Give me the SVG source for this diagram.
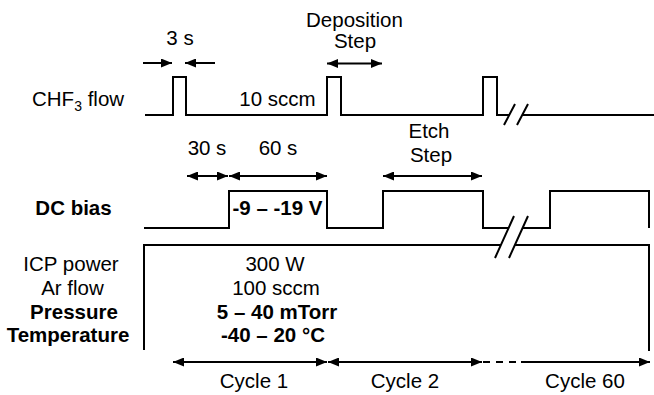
<svg xmlns="http://www.w3.org/2000/svg" width="654" height="395" viewBox="0 0 654 395">
<style>
text{font-family:"Liberation Sans",Arial,sans-serif;font-size:20.5px;fill:#000}
.b{font-weight:bold}
.m{text-anchor:middle}
.w{fill:none;stroke:#000;stroke-width:2}
.a{fill:none;stroke:#000;stroke-width:2;marker-end:url(#ah)}
.d{fill:none;stroke:#000;stroke-width:2;marker-start:url(#ah);marker-end:url(#ah)}
</style>
<defs>
<marker id="ah" viewBox="0 0 11 9" refX="11" refY="4.5" markerWidth="11" markerHeight="9" markerUnits="userSpaceOnUse" orient="auto-start-reverse">
<path d="M0,0 L11,4.5 L0,9 z" fill="#000"/>
</marker>
</defs>
<rect width="654" height="395" fill="#fff"/>

<g id="chf3">
<text x="32" y="106">CHF<tspan font-size="14" dy="5">3</tspan><tspan dy="-5"> flow</tspan></text>
<path class="w" d="M145,115 H173 V77 H186 V115 H327 V77 H341 V115 H483 V77 H497 V115 H509.5"/>
<path class="w" d="M522.5,115 H654"/>
<path class="w" d="M504,125 L515,104 M517,125 L528,104"/>
<text class="m" x="277.5" y="106">10 sccm</text>
</g>

<g id="dcbias">
<text class="b m" x="73.5" y="215">DC bias</text>
<path class="w" d="M144,228 H229 V191 H327 V228 H383 V191 H483 V228 H508.6"/>
<path class="w" d="M522.6,228 H550 V191 H649 V228"/>
<text class="b m" x="277.5" y="215">-9 – -19 V</text>
</g>

<g id="conditions">
<path class="w" d="M144,350 V245 H500.9"/>
<path class="w" d="M514.9,245 H649 V351"/>
<path class="w" d="M495,258 L514,216 M509,258 L528,216"/>
<text class="m" x="71" y="271">ICP power</text>
<text class="m" x="72.5" y="295">Ar flow</text>
<text class="b m" x="74" y="319">Pressure</text>
<text class="b m" x="68" y="342">Temperature</text>
<text class="m" x="275" y="271">300 W</text>
<text class="m" x="276" y="295">100 sccm</text>
<text class="b m" x="277" y="319">5 – 40 mTorr</text>
<text class="b m" x="273" y="342">-40 – 20 °C</text>
</g>

<g id="labels">
<text class="m" x="180" y="45">3 s</text>
<text class="m" x="354.5" y="27">Deposition</text>
<text class="m" x="355" y="48">Step</text>
<text class="m" x="207" y="155">30 s</text>
<text class="m" x="278" y="155">60 s</text>
<text class="m" x="429" y="138">Etch</text>
<text class="m" x="431" y="162">Step</text>
<text class="m" x="254" y="388">Cycle 1</text>
<text class="m" x="405" y="388">Cycle 2</text>
<text class="m" x="585" y="388">Cycle 60</text>
</g>

<g id="connectors">
<path class="a" d="M143,63 H172"/>
<path class="a" d="M215,63 H185"/>
<path class="d" d="M327,63.5 H382"/>
<path class="d" d="M187,176 H228"/>
<path class="d" d="M229,176 H327"/>
<path class="d" d="M383,176 H482"/>
<path class="d" d="M173,362 H327"/>
<path class="d" d="M328,362 H482"/>
<path class="w" d="M483,362 H517" stroke-dasharray="7,6"/>
<path class="a" d="M521,362 H650"/>
</g>
</svg>
